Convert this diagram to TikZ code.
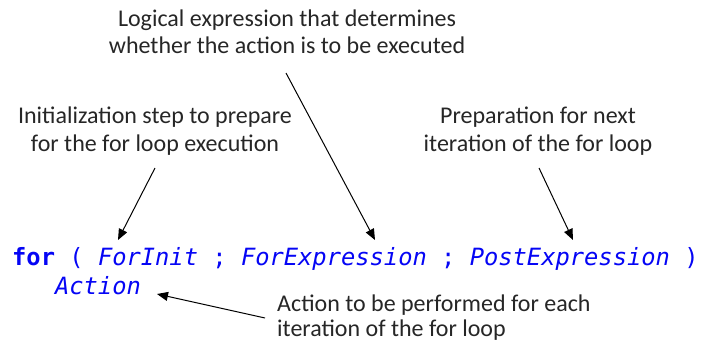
\documentclass[tikz,border=0pt]{standalone}
\usepackage{fontspec}
\usetikzlibrary{arrows.meta}
\setmainfont{Carlito}
\newfontfamily\codefont{DejaVu Sans Mono}
\definecolor{codeblue}{RGB}{5,5,245}
\tikzset{
  note/.style={anchor=base, inner sep=0pt, font=\fontsize{24}{28}\selectfont, text=black!85},
  noteL/.style={note, anchor=base west},
  code/.style={anchor=base west, inner sep=0pt, text=codeblue, font=\codefont\fontsize{23.75}{28}\selectfont},
  codeit/.style={code, font=\codefont\fontsize{23.75}{28}\selectfont\itshape},
  codebf/.style={code, font=\codefont\fontsize{23.75}{28}\selectfont\bfseries},
  pointer/.style={line width=1pt, -{Triangle[length=11pt,width=9pt]}}
}
\begin{document}
\begin{tikzpicture}[x=1pt,y=-1pt]
\useasboundingbox (0,0) rectangle (703,345);
% annotations
\node[note] (logic1) at (287,27) {Logical expression that determines};
\node[note] (logic2) at (287,53) {whether the action is to be executed};
\node[note] (init1) at (155,123) {Initialization step to prepare};
\node[note] (init2) at (155,151) {for the for loop execution};
\node[note] (prep1) at (538,123) {Preparation for next};
\node[note] (prep2) at (538,151) {iteration of the for loop};
\node[noteL] (act1) at (277,311) {Action to be performed for each};
\node[noteL] (act2) at (277,336) {iteration of the for loop};
% code
\node[codebf] (kfor) at (12,265) {for};
\node[code] (lpar) at ({12+4*14.3},265) {(};
\node[codeit] (finit) at ({12+6*14.3},265) {ForInit};
\node[code] (semi1) at ({12+14*14.3},265) {;};
\node[codeit] (fexpr) at ({12+16*14.3},265) {ForExpression};
\node[code] (semi2) at ({12+30*14.3},265) {;};
\node[codeit] (pexpr) at ({12+32*14.3},265) {PostExpression};
\node[code] (rpar) at ({12+47*14.3},265) {)};
\node[codeit] (action) at ({12+3*14.3},294) {Action};
% connector ends
\coordinate (s1) at (155,168);
\coordinate (t1) at (118,240);
\coordinate (s2) at (286,73);
\coordinate (t2) at (375,240);
\coordinate (s3) at (539,168);
\coordinate (t3) at (573,240);
\coordinate (s4) at (265,318);
\coordinate (t4) at (157,294);
\draw[pointer] (s1) -- (t1);
\draw[pointer] (s2) -- (t2);
\draw[pointer] (s3) -- (t3);
\draw[pointer] (s4) -- (t4);
\end{tikzpicture}
\end{document}
